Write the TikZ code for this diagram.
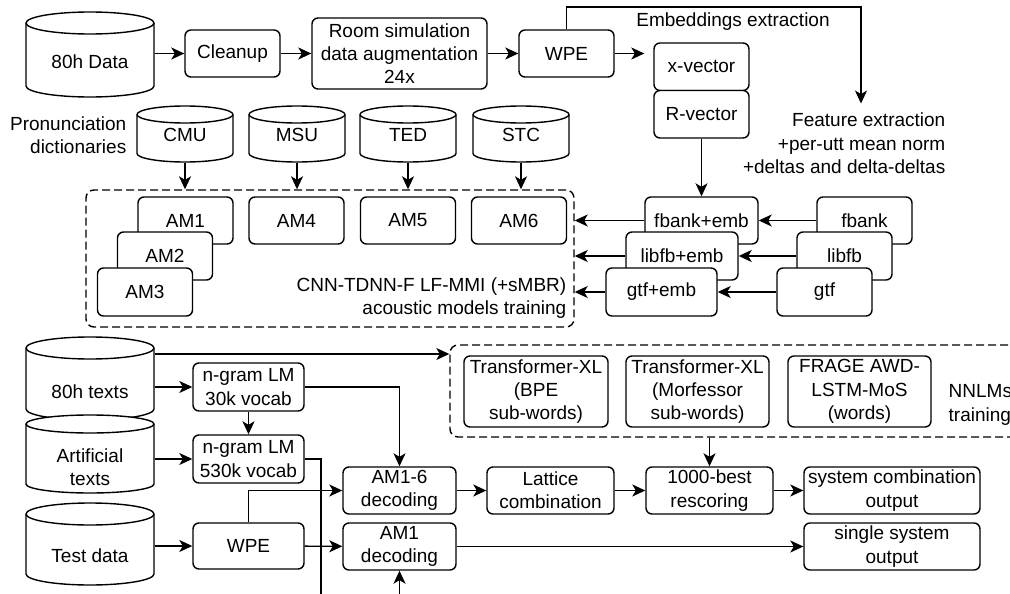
\documentclass[tikz,border=0pt]{standalone}
\usepackage{fontspec}
\setmainfont{Liberation Sans}
\usetikzlibrary{arrows.meta, positioning}

% cylinder outline: name, left, right, top, bottom, y radius
\newcommand{\drum}[6]{%
	\pgfmathsetmacro\drumrx{(#3-#2)/2}%
	\pgfmathsetmacro\drumh{#5-#4}%
	\draw[fill=white] (#2,#4+#6) -- (#2,#5-#6)
		arc[start angle=180, end angle=360, x radius=\drumrx pt, y radius=#6 pt]
		-- (#3,#4+#6)
		arc[start angle=0, end angle=180, x radius=\drumrx pt, y radius=#6 pt] -- cycle;
	\draw (#2,#4+#6) arc[start angle=180, end angle=360, x radius=\drumrx pt, y radius=#6 pt];
	\node[inner sep=0pt, minimum width=2*\drumrx pt, minimum height=\drumh pt] (#1) at ({(#2+#3)/2},{(#4+#5)/2}) {};
}

\begin{document}
\begin{tikzpicture} [
						x=1pt, y=-1pt,
						font=\fontsize{19}{23.3}\selectfont,
						line width=1.4pt,
						>={Stealth[length=13pt, width=12pt, inset=3.5pt]},
						box/.style={draw, fill=white, rounded corners=6pt, align=center, inner sep=1pt},
						group/.style={draw, dash pattern=on 8pt off 4pt, rounded corners=8pt},
						plain/.style={align=center, inner sep=0pt}
					]

\clip (0,0) rectangle (1010,594);

% training data
\drum{data}{26}{154}{12}{97}{11}
\node[plain] (data-t) at (90,62) {80h Data};
\node[box, minimum width=95pt, minimum height=47pt] (cleanup) at (232.5,53.5) {Cleanup};
\node[box, minimum width=175pt, minimum height=71pt] (room) at (399.5,53.5) {Room simulation\\data augmentation\\24x};
\node[box, minimum width=95pt, minimum height=47pt] (wpe1) at (566.5,53.5) {WPE};
\node[box, minimum width=95pt, minimum height=47.5pt] (xvec) at (701.5,66.75) {x-vector};
\node[box, minimum width=95pt, minimum height=47.5pt] (rvec) at (701.5,114.25) {R-vector};
\node[plain] (embtxt) at (733,22) {Embeddings extraction};
\node[plain, align=right, anchor=east, inner ysep=9pt] (feat) at (946,143.5) {Feature extraction\\+per-utt mean norm\\+deltas and delta-deltas};

% acoustic models
\node[plain, align=right, anchor=east] (pron) at (127,135) {Pronunciation\\dictionaries};
\node[group, minimum width=488pt, minimum height=137pt] (amgroup) at (330,258.5) {};
\foreach \nm/\xa/\txt in {cmu/137/CMU, msu/249/MSU, ted/360/TED, stc/473/STC} {
	\drum{\nm}{\xa}{\xa+96}{106}{162}{8.5}
	\node[plain] (\nm-t) at ([yshift=-1pt]\nm.center) {\txt};
	\draw[->] (\nm.south) -- (\nm.south |- amgroup.north);
}
\node[box, minimum width=95pt, minimum height=47pt] (am1) at (185.5,220.5) {AM1};
\node[box, minimum width=95pt, minimum height=48pt] (am2) at (165,256) {AM2};
\node[box, minimum width=95pt, minimum height=48pt] (am3) at (145,292) {AM3};
\node[box, minimum width=95pt, minimum height=47pt] (am4) at (296.5,220.5) {AM4};
\node[box, minimum width=95pt, minimum height=47pt] (am5) at (408,220.5) {AM5};
\node[box, minimum width=95pt, minimum height=47pt] (am6) at (519,220.5) {AM6};
\node[plain, align=right, anchor=east] (amtxt) at (567,298) {CNN-TDNN-F LF-MMI (+sMBR)\\acoustic models training};

\node[box, minimum width=113pt, minimum height=47pt] (fbemb) at (701.5,220.5) {fbank+emb};
\node[box, minimum width=112pt, minimum height=48pt] (libemb) at (682,256) {libfb+emb};
\node[box, minimum width=111pt, minimum height=48pt] (gtfemb) at (661.5,292) {gtf+emb};
\node[box, minimum width=95pt, minimum height=47pt] (fbank) at (864.5,220.5) {fbank};
\node[box, minimum width=95pt, minimum height=48pt] (libfb) at (844.5,256) {libfb};
\node[box, minimum width=95pt, minimum height=48pt] (gtf) at (824.5,292) {gtf};

% language models and decoding
\drum{texts}{26}{154}{337}{420}{11}
\node[plain] (texts-t) at (90,392) {80h texts};
\drum{artif}{26}{154}{415}{493}{9}
\node[plain] (artif-t) at (90,467) {Artificial\\texts};
\drum{test}{26}{154}{503}{585}{11}
\node[plain] (test-t) at (90,556) {Test data};

\node[box, minimum width=111pt, minimum height=48pt] (lm30) at (248.5,387) {n-gram LM\\30k vocab};
\node[box, minimum width=111pt, minimum height=48pt] (lm530) at (248.5,459) {n-gram LM\\530k vocab};
\node[box, minimum width=111pt, minimum height=46pt] (wpe2) at (248.5,546) {WPE};

\node[group, minimum width=590pt, minimum height=92pt] (nnlm) at (745,391) {};
\node[box, minimum width=144pt, minimum height=71pt] (txl1) at (536,391.5) {Transformer-XL\\(BPE\\sub-words)};
\node[box, minimum width=143pt, minimum height=71pt] (txl2) at (697.5,391.5) {Transformer-XL\\(Morfessor\\sub-words)};
\node[box, minimum width=143pt, minimum height=71pt] (frage) at (859.5,391.5) {FRAGE AWD-\\LSTM-MoS\\(words)};
\node[plain, align=left, anchor=west] (nnlmtxt) at (948,405) {NNLMs\\training};

\node[box, minimum width=113pt, minimum height=47pt] (dec16) at (399.5,490.5) {AM1-6\\decoding};
\node[box, minimum width=113pt, minimum height=47pt] (dec1) at (399.5,546.5) {AM1\\decoding};
\node[box, minimum width=127pt, minimum height=47pt] (lattice) at (550.5,490.5) {Lattice\\combination};
\node[box, minimum width=127pt, minimum height=47pt] (nbest) at (709.5,490.5) {1000-best\\rescoring};
\node[box, minimum width=176pt, minimum height=47pt] (syscomb) at (892,490.5) {system combination\\output};
\node[box, minimum width=176pt, minimum height=47pt] (single) at (892,546.5) {single system\\output};

\coordinate (embturn) at (861,7);
\coordinate (lm-down) at (321,594);
\coordinate (dec-up) at (399.5,594);

\path[->]
	(data.east |- cleanup.west) edge (cleanup.west)
	(cleanup) edge (room)
	(room) edge (wpe1)
	(wpe1.east) edge [shorten >=9pt] (wpe1.east -| xvec.west)
	(rvec) edge (fbemb)
	(fbank) edge (fbemb)
	(libfb) edge (libemb)
	(gtf) edge (gtfemb)
	(fbemb.west) edge (fbemb.west -| amgroup.east)
	(libemb.west) edge (libemb.west -| amgroup.east)
	(gtfemb.west) edge (gtfemb.west -| amgroup.east)
	(texts.east |- lm30.west) edge (lm30.west)
	(artif.east |- lm530.west) edge (lm530.west)
	(test.east |- wpe2.west) edge (wpe2.west)
	(lm30) edge (lm530)
	(wpe2) edge (dec1)
	(dec16) edge (lattice)
	(lattice) edge (nbest)
	(nbest) edge (syscomb)
	(dec1.east) edge (dec1.east -| single.west)
	(nbest.north |- nnlm.south) edge (nbest.north)
	(dec-up) edge (dec1.south);

\draw[->] (wpe1.north) |- (embturn) -- (embturn |- feat.north);
\draw[->] ([yshift=24.5pt]texts.east) coordinate (texts-out) -- (texts-out -| nnlm.west);
\draw[->] (lm30.east) -| (dec16.north);
\draw (lm530.east) -| (lm-down);
\draw[->] (wpe2.north) |- (dec16.west);

\end{tikzpicture}
\end{document}
